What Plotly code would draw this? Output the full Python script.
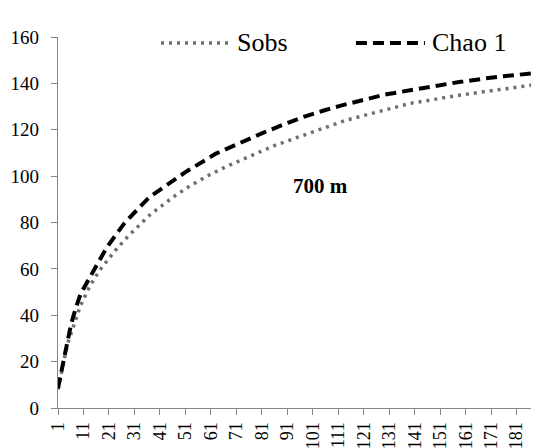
import plotly.graph_objects as go

# sample index (categories 1..189)
samples = list(range(1, 190))
tick_labels = [str(v) for v in range(1, 190, 10)]

sobs = [
    8, 14, 19, 24, 28.5, 32, 35.5, 38.5, 41.5, 44.5,
    47, 49.5, 51.5, 53.5, 55.5, 57, 58.8, 60.3, 61.8, 63.2,
    64.6, 66, 67.3, 68.6, 69.9, 71.1, 72.3, 73.5, 74.6, 75.7,
    76.8, 77.9, 79, 80.3, 81.3, 82.3, 83.2, 84.1, 85.0, 85.9,
    86.8, 87.6, 88.4, 89.2, 90.0, 90.8, 91.6, 92.4, 93.1, 93.8,
    94.5, 95.2, 95.9, 96.6, 97.3, 97.9, 98.5, 99.1, 99.7, 100.3,
    100.9, 101.5, 102.1, 102.6, 103.1, 103.6, 104.1, 104.6, 105.1, 105.6,
    106.1, 106.6, 107.1, 107.6, 108.1, 108.6, 109.1, 109.6, 110.0, 110.5,
    110.9, 111.4, 111.8, 112.3, 112.7, 113.2, 113.6, 114.0, 114.4, 114.8,
    115.2, 115.6, 116.0, 116.4, 116.8, 117.2, 117.6, 118.0, 118.4, 118.8,
    119.2, 119.6, 120.0, 120.4, 120.8, 121.2, 121.6, 122.0, 122.4, 122.8,
    123.2, 123.5, 123.8, 124.1, 124.4, 124.7, 125.0, 125.3, 125.6, 125.9,
    126.2, 126.5, 126.8, 127.1, 127.4, 127.7, 128.0, 128.3, 128.6, 128.9,
    129.2, 129.5, 129.8, 130.1, 130.4, 130.7, 130.9, 131.1, 131.3, 131.5,
    131.7, 131.9, 132.1, 132.3, 132.5, 132.7, 132.9, 133.1, 133.3, 133.5,
    133.7, 133.8, 134.0, 134.2, 134.3, 134.5, 134.7, 134.8, 135.0, 135.1,
    135.3, 135.5, 135.6, 135.8, 135.9, 136.1, 136.2, 136.4, 136.5, 136.7,
    136.8, 137.0, 137.1, 137.3, 137.4, 137.6, 137.7, 137.9, 138.0, 138.2,
    138.3, 138.5, 138.6, 138.8, 138.9, 139.1, 139.2, 139.4, 139.5,
]

chao1 = [
    8.5, 14, 20, 25, 31, 35.5, 39.5, 43.5, 46.5, 49.5,
    51.5, 53.7, 55.8, 57.8, 59.8, 61.8, 63.8, 65.6, 67.3, 69,
    70.6, 72.2, 73.8, 75.4, 76.9, 78.3, 79.6, 80.8, 82, 83.3,
    84.6, 85.8, 86.9, 88, 89, 90, 91, 91.8, 92.6, 93.4,
    94.2, 94.9, 95.6, 96.3, 97, 97.7, 98.5, 99.3, 100.1, 100.9,
    101.7, 102.4, 103.1, 103.8, 104.5, 105.2, 105.9, 106.6, 107.3, 108,
    108.6, 109.2, 109.7, 110.2, 110.7, 111.2, 111.7, 112.2, 112.7, 113.2,
    113.7, 114.2, 114.7, 115.3, 115.8, 116.2, 116.7, 117.1, 117.6, 118.0,
    118.5, 118.9, 119.4, 119.8, 120.3, 120.7, 121.1, 121.6, 122.0, 122.5,
    122.9, 123.3, 123.8, 124.2, 124.6, 125.0, 125.4, 125.8, 126.2, 126.6,
    126.9, 127.2, 127.6, 127.9, 128.2, 128.5, 128.9, 129.2, 129.5, 129.8,
    130.1, 130.4, 130.7, 131.0, 131.3, 131.6, 131.9, 132.2, 132.5, 132.8,
    133.1, 133.4, 133.7, 134.0, 134.3, 134.5, 134.7, 134.9, 135.1, 135.3,
    135.5, 135.7, 135.9, 136.1, 136.3, 136.5, 136.7, 136.9, 137.1, 137.3,
    137.5, 137.7, 137.9, 138.1, 138.3, 138.5, 138.7, 138.9, 139.1, 139.3,
    139.5, 139.7, 139.8, 139.9, 140.0, 140.1, 140.3, 140.5, 140.7, 140.8,
    140.9, 141.0, 141.1, 141.2, 141.4, 141.6, 141.8, 142.0, 142.2, 142.4,
    142.6, 142.7, 142.8, 142.9, 143.0, 143.1, 143.2, 143.3, 143.4, 143.5,
    143.6, 143.7, 143.8, 144.0, 144.1, 144.2, 144.3, 144.4, 144.5,
]

series_names = ["Sobs", "Chao 1"]
annotation_text = "700 m"

SERIF = "Liberation Serif"
SOBS_COLOR = "#6e6e6e"
CHAO_COLOR = "#000000"
SOBS_DASH = "3px,5px"
CHAO_DASH = "11px,6px"

fig = go.Figure()
fig.add_trace(go.Scatter(
    x=samples, y=sobs, mode="lines", name=series_names[0],
    line=dict(color=SOBS_COLOR, width=3.5, dash=SOBS_DASH),
    showlegend=False,
))
fig.add_trace(go.Scatter(
    x=samples, y=chao1, mode="lines", name=series_names[1],
    line=dict(color=CHAO_COLOR, width=4, dash=CHAO_DASH),
    showlegend=False,
))

# manual legend (line samples + labels), positioned in paper coordinates
leg_y = 0.984
legend_items = [
    (0.215, 0.359, 0.370, SOBS_COLOR, 3.5, SOBS_DASH, series_names[0]),
    (0.622, 0.766, 0.777, CHAO_COLOR, 4, CHAO_DASH, series_names[1]),
]
for x0, x1, xt, col, w, dash, label in legend_items:
    fig.add_shape(type="line", xref="paper", yref="paper",
                  x0=x0, x1=x1, y0=leg_y, y1=leg_y,
                  line=dict(color=col, width=w, dash=dash))
    fig.add_annotation(xref="paper", yref="paper", x=xt, y=leg_y,
                       text=label, showarrow=False, xanchor="left",
                       yanchor="middle",
                       font=dict(family=SERIF, size=26, color="black"))

fig.add_annotation(xref="paper", yref="paper", x=0.548, y=0.599,
                   text="<b>" + annotation_text + "</b>", showarrow=False,
                   xanchor="center", yanchor="middle",
                   font=dict(family=SERIF, size=21, color="black"))

# the page body adds an 8px offset; the figure is sized to compensate
axis_col = "#868686"
fig.update_layout(
    width=531, height=440,
    margin=dict(l=50, r=2, t=29, b=40, autoexpand=False),
    paper_bgcolor="white", plot_bgcolor="white",
    font=dict(family=SERIF, color="black"),
    xaxis=dict(
        range=[1, 189], tickmode="array",
        tickvals=list(range(1, 190, 10)), ticktext=tick_labels,
        tickangle=-90, ticks="outside", ticklen=6, tickcolor=axis_col,
        tickwidth=1.3, automargin=False,
        showline=True, linecolor=axis_col, linewidth=1.3,
        showgrid=False, zeroline=False,
        tickfont=dict(family=SERIF, size=18, color="black"),
    ),
    yaxis=dict(
        range=[0, 160], tickmode="linear", tick0=0, dtick=20,
        ticks="outside", ticklen=6, tickcolor=axis_col, tickwidth=1.3,
        showline=True, linecolor=axis_col, linewidth=1.3, automargin=False,
        showgrid=False, zeroline=False, ticklabelstandoff=8,
        tickfont=dict(family=SERIF, size=19, color="black"),
    ),
)

fig.write_html("out.html")
